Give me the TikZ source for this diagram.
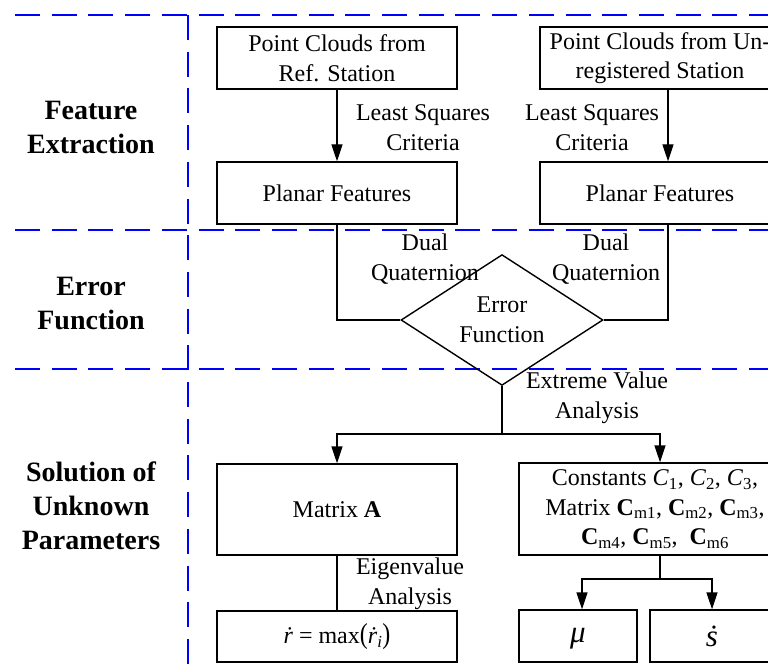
\documentclass[tikz,border=0pt]{standalone}
\usepackage{fontspec}
\setmainfont{Liberation Serif}
\usetikzlibrary{arrows.meta,shapes.geometric}
\newcommand{\bodyfont}{\fontsize{24}{29.5}\selectfont}
\newcommand{\headfont}{\fontsize{28}{34}\selectfont\bfseries}
\newcommand{\symfont}{\fontsize{31}{34}\selectfont}
\begin{document}
\begin{tikzpicture}[x=1pt,y=-1pt,
  box/.style={draw, line width=1.4pt, inner sep=0pt, align=center, font=\bodyfont},
  lbl/.style={inner sep=0pt, align=center, font=\bodyfont},
  head/.style={inner sep=0pt, align=center, font=\headfont},
  link/.style={line width=1.4pt},
  flow/.style={link, -{Triangle[length=17pt,width=11pt]}},
  zone/.style={blue, line width=1.8pt, dash pattern=on 25pt off 11.7pt}]
\useasboundingbox (0,0) rectangle (768,666);
\clip (0,0) rectangle (768,666);

% stage boundaries
\draw[zone] (15,15) -- (768,15);
\draw[zone] (15,230) -- (768,230);
\draw[zone] (15,369) -- (768,369);
\draw[zone] (188,15) -- (188,666);

% stage titles
\node[head] (h1) at (91,127) {Feature\\Extraction};
\node[head] (h2) at (91,304) {Error\\Function};
\node[head] (h3) at (91,506) {Solution of\\Unknown\\Parameters};

% feature extraction
\node[box, minimum width=240pt, minimum height=62pt] (pc1) at (337,58) {Point Clouds from\\Ref. Station};
\node[box, minimum width=240pt, minimum height=62pt] (pc2) at (660,58) {Point Clouds from Un-\\registered Station};
\node[box, minimum width=240pt, minimum height=62pt] (pf1) at (337,193) {Planar Features};
\node[box, minimum width=240pt, minimum height=62pt] (pf2) at (660,193) {Planar Features};

% error function
\node[box, diamond, minimum width=202pt, minimum height=96pt] (ef) at (502,320) {Error\\Function};

% unknown parameters
\node[box, minimum width=240pt, minimum height=91pt] (ma) at (337,509.5) {Matrix \textbf{A}};
\node[box, minimum width=272pt, minimum height=92pt] (cc) at (655,509) {Constants \textit{C}\textsubscript{1}, \textit{C}\textsubscript{2}, \textit{C}\textsubscript{3},\\Matrix \textbf{C}\textsubscript{m1}, \textbf{C}\textsubscript{m2}, \textbf{C}\textsubscript{m3},\\\textbf{C}\textsubscript{m4}, \textbf{C}\textsubscript{m5},\ \ \textbf{C}\textsubscript{m6}};
\node[box, minimum width=240pt, minimum height=51pt] (rb) at (337,636.5) {\textit{ṙ} = max\scalebox{1}[1.2]{(}\textit{ṙ}\textsubscript{\textit{i}}\scalebox{1}[1.2]{)}};
\node[box, minimum width=118pt, minimum height=52pt] (mb) at (578,636) {\symfont\raisebox{-6pt}[0pt][0pt]{\textit{μ}}};
\node[box, minimum width=124pt, minimum height=52pt] (sb) at (712,636) {\symfont\textit{ṡ}};

% connector labels
\node[lbl] (lsq1) at (423,127.5) {Least Squares\\Criteria};
\node[lbl] (lsq2) at (592,127.5) {Least Squares\\Criteria};
\node[lbl] (dq1) at (425,259) {Dual\\Quaternion};
\node[lbl] (dq2) at (606,259) {Dual\\Quaternion};
\node[lbl] (eva) at (597,398) {Extreme Value\\Analysis};
\node[lbl] (eig) at (410,584) {Eigenvalue\\Analysis};

% connectors
\draw[flow] (pc1.south) -- (pf1.north);
\draw[flow] ([xshift=8pt]pc2.south) -- ([xshift=8pt]pf2.north);
\draw[link] (pf1.south) |- (ef.west);
\draw[link] ([xshift=8pt]pf2.south) |- (ef.east);
\coordinate (br) at (502,434);
\draw[link] (ef.south) -- (br);
\draw[flow] (br) -| (ma.north);
\draw[flow] (br) -| ([xshift=5pt]cc.north);
\draw[link] (ma.south) -- (rb.north);
\coordinate (cb) at (660,579);
\draw[link] ([xshift=5pt]cc.south) -- (cb);
\draw[flow] (cb) -| ([xshift=4pt]mb.north);
\draw[flow] (cb) -| (sb.north);
\end{tikzpicture}
\end{document}
